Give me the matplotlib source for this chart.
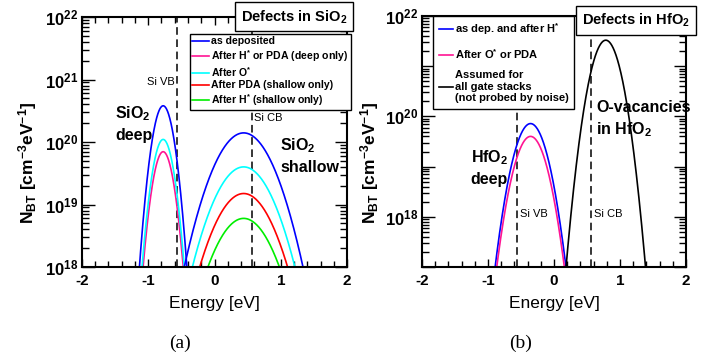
import numpy as np
import matplotlib
matplotlib.use("Agg")
import matplotlib.pyplot as plt
from matplotlib.lines import Line2D
from matplotlib.ticker import MultipleLocator, LogLocator, FuncFormatter, NullFormatter

plt.rcParams['font.family'] = ['Liberation Sans', 'DejaVu Sans']
plt.rcParams['font.weight'] = 'bold'
plt.rcParams['mathtext.fontset'] = 'custom'
plt.rcParams['mathtext.rm'] = 'Liberation Sans:bold'
plt.rcParams['mathtext.it'] = 'Liberation Sans:bold'
plt.rcParams['mathtext.bf'] = 'Liberation Sans:bold'
plt.rcParams['axes.unicode_minus'] = False

# Si band edges [eV]
si_vb, si_cb = -0.56, 0.56

# (a) SiO2 defect bands: Gaussian bands, centre [eV], width [eV], peak N_BT
sio2_deep_center, sio2_deep_sigma = -0.775, 0.104
sio2_deep_names = ['as deposited', 'After H* or PDA (deep only)', 'After O*']
sio2_deep_peaks = [3.8e20, 7.0e19, 1.1e20]
sio2_shallow_center, sio2_shallow_sigma = 0.44, 0.285
sio2_shallow_names = ['as deposited', 'After O*', 'After PDA (shallow only)', 'After H* (shallow only)']
sio2_shallow_peaks = [1.4e20, 4.0e19, 1.5e19, 6.0e18]

# (b) HfO2 defect bands
hfo2_deep_center, hfo2_deep_sigma = -0.355, 0.148
hfo2_deep_names = ['as dep. and after H*', 'After O* or PDA']
hfo2_deep_peaks = [7.2e19, 4.0e19]
ovac_center, ovac_sigma, ovac_peak = 0.785, 0.132, 3.3e21

colors = {
    'as deposited': '#0000ff', 'After H* or PDA (deep only)': '#ff1493',
    'After O*': '#00ffff', 'After PDA (shallow only)': '#ff0000',
    'After H* (shallow only)': '#00ee00',
    'as dep. and after H*': '#0000ff', 'After O* or PDA': '#ff1493',
}

E = np.linspace(-2, 2, 1601)


def band(center, sigma, peak):
    n = peak * np.exp(-(E - center) ** 2 / (2 * sigma ** 2))
    return np.where(n > 1e15, n, np.nan)


def decade_label(v, pos, every=1):
    k = int(round(np.log10(v)))
    if k % every:
        return ''
    return r'$10^{%d}$' % k


def style(ax, ymin, ymax, every):
    ax.set_xlim(-2, 2)
    ax.set_yscale('log')
    ax.set_ylim(ymin, ymax)
    ax.xaxis.set_major_locator(MultipleLocator(1))
    ax.xaxis.set_minor_locator(MultipleLocator(0.2))
    ax.xaxis.set_major_formatter(FuncFormatter(lambda v, p: '%d' % round(v)))
    ax.yaxis.set_major_locator(LogLocator(base=10, numticks=12))
    ax.yaxis.set_minor_locator(LogLocator(base=10, subs=np.arange(2, 10), numticks=12))
    ax.yaxis.set_minor_formatter(NullFormatter())
    ax.yaxis.set_major_formatter(FuncFormatter(lambda v, p: decade_label(v, p, every)))
    ax.tick_params(which='both', direction='in', top=True, right=True, width=1)
    ax.tick_params(axis='x', which='major', length=6, labelsize=11, pad=5)
    ax.tick_params(axis='x', which='minor', length=4)
    ax.tick_params(axis='y', which='major', length=9, labelsize=12, pad=3)
    ax.tick_params(axis='y', which='minor', length=5)
    for s in ax.spines.values():
        s.set_linewidth(1.5)
    ax.set_xlabel('Energy [eV]', fontsize=12.5, labelpad=6)
    for v in (si_vb, si_cb):
        ax.axvline(v, color='black', ls=(0, (5, 3)), lw=1.1)


fig = plt.figure(figsize=(7.18, 3.6), dpi=100)
axa = fig.add_axes([0.1142, 0.2583, 0.3691, 0.6944])
axb = fig.add_axes([0.5877, 0.2583, 0.3677, 0.6972])

# ---- (a) SiO2
style(axa, 1e18, 1e22, 1)
for name, pk in zip(sio2_deep_names, sio2_deep_peaks):
    axa.plot(E, band(sio2_deep_center, sio2_deep_sigma, pk), color=colors[name], lw=1.2)
for name, pk in zip(sio2_shallow_names, sio2_shallow_peaks):
    axa.plot(E, band(sio2_shallow_center, sio2_shallow_sigma, pk), color=colors[name], lw=1.2)

leg_a = ['as deposited', 'After H* or PDA (deep only)', 'After O*',
         'After PDA (shallow only)', 'After H* (shallow only)']
handles = [Line2D([], [], color=colors[n], lw=1.2) for n in leg_a]
labels = [n.replace('*', '$^{*}$') for n in leg_a]
lg = axa.legend(handles, labels, loc='upper left', bbox_to_anchor=(0.2646, 0.9056),
                bbox_transform=fig.transFigure, fontsize=7.6, frameon=True, fancybox=False,
                edgecolor='black', framealpha=1, borderpad=0.22, labelspacing=0.14,
                handlelength=1.6, handletextpad=0.2, borderaxespad=0)
lg.get_frame().set_linewidth(1)

axa.text(-1.5, 10 ** 20.30, 'SiO$_2$\ndeep', fontsize=11.5, ha='left', va='center', linespacing=1.4)
axa.text(0.99, 10 ** 19.78, 'SiO$_2$\nshallow', fontsize=11.5, ha='left', va='center', linespacing=1.4)
axa.text(si_vb - 0.04, 10 ** 20.96, 'Si VB', fontsize=8, fontweight='normal', ha='right', va='center')
axa.text(si_cb + 0.03, 10 ** 20.38, 'Si CB', fontsize=8, fontweight='normal', ha='left', va='center')

# ---- (b) HfO2
style(axb, 1e17, 1e22, 2)
for name, pk in zip(hfo2_deep_names, hfo2_deep_peaks):
    axb.plot(E, band(hfo2_deep_center, hfo2_deep_sigma, pk), color=colors[name], lw=1.2)
axb.plot(E, band(ovac_center, ovac_sigma, ovac_peak), color='black', lw=1.2)

handles = [Line2D([], [], color=colors[n], lw=1.2) for n in hfo2_deep_names]
handles.append(Line2D([], [], color='black', lw=1.2))
labels = ['as dep. and after H$^{*}$', 'After O$^{*}$ or PDA',
          'Assumed for\nall gate stacks\n(not probed by noise)']
lg = axb.legend(handles, labels, loc='upper left', bbox_to_anchor=(0.603, 0.9556),
                bbox_transform=fig.transFigure, fontsize=8.0, frameon=True, fancybox=False,
                edgecolor='black', framealpha=1, borderpad=0.5, labelspacing=0.85,
                handlelength=1.3, handletextpad=0.2, borderaxespad=0)
lg.get_frame().set_linewidth(1)

axb.text(-1.26, 10 ** 18.98, 'HfO$_2$\ndeep', fontsize=11.5, ha='left', va='center', linespacing=1.4)
axb.text(0.64, 10 ** 19.94, 'O-vacancies\nin HfO$_2$', fontsize=11.5, ha='left', va='center', linespacing=1.4)
axb.text(si_vb + 0.05, 10 ** 18.06, 'Si VB', fontsize=8, fontweight='normal', ha='left', va='center')
axb.text(si_cb + 0.05, 10 ** 18.06, 'Si CB', fontsize=8, fontweight='normal', ha='left', va='center')

# y labels, panel titles, captions
ylab = r'N$_{BT}$ [cm$^{-3}$eV$^{-1}$]'
fig.text(0.038, 0.548, ylab, rotation=90, fontsize=12.5, ha='center', va='center')
fig.text(0.514, 0.548, ylab, rotation=90, fontsize=12.5, ha='center', va='center')

box = dict(boxstyle='square,pad=0.4', fc='white', ec='black', lw=1)
fig.text(0.410, 0.953, 'Defects in SiO$_2$', fontsize=10.5, ha='center', va='center', bbox=box)
fig.text(0.886, 0.944, 'Defects in HfO$_2$', fontsize=10.5, ha='center', va='center', bbox=box)

fig.text(0.2507, 0.047, '(a)', fontsize=14, fontweight='normal', family='Liberation Serif',
         ha='center', va='center')
fig.text(0.7256, 0.047, '(b)', fontsize=14, fontweight='normal', family='Liberation Serif',
         ha='center', va='center')

fig.savefig('out.png', dpi=100)
